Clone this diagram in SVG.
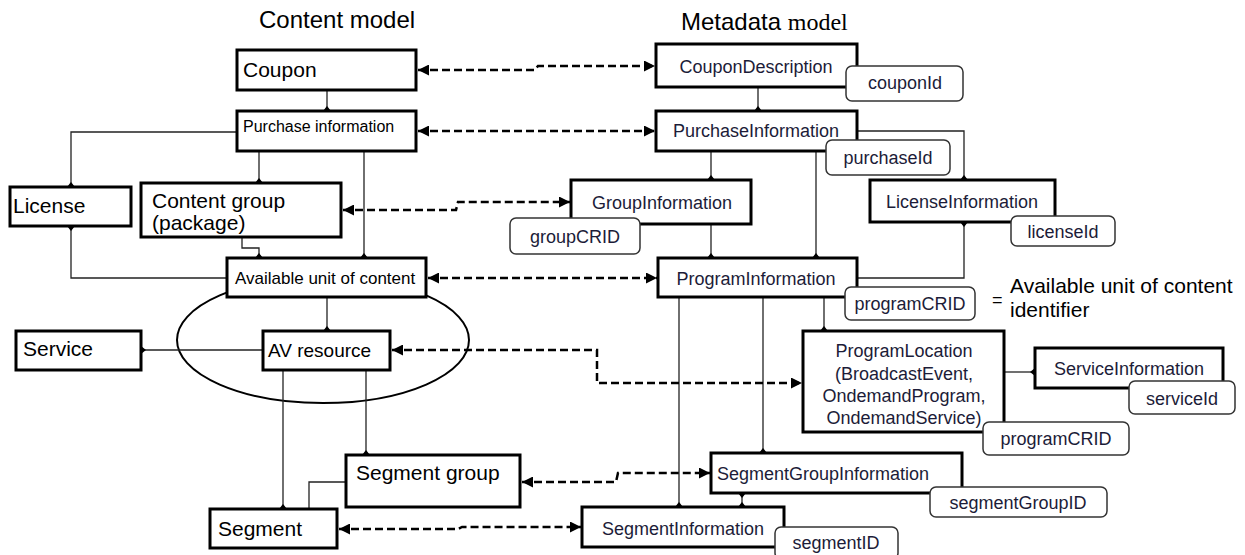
<svg xmlns="http://www.w3.org/2000/svg" width="1245" height="555" viewBox="0 0 1245 555">
  <style>
    .box { fill: #fff; stroke: #000; stroke-width: 3; }
    .key { fill: #fff; stroke: #333; stroke-width: 1.5; }
    .t { font-family: "Liberation Sans", Arial, sans-serif; fill: #000; }
    .m { font-family: "Liberation Sans", Arial, sans-serif; fill: #1c1c38; font-size: 18px; text-anchor: middle; }
    .link { fill: none; stroke: #222; stroke-width: 1.3; }
    .assoc { fill: none; stroke: #000; stroke-width: 2.5; stroke-dasharray: 8 4; }
  </style>
  <defs>
    <marker id="dot" viewBox="-5 -5 10 10" markerWidth="10" markerHeight="10" markerUnits="userSpaceOnUse" orient="auto">
      <path d="M-5 0 L0 -4 L5 0 L0 4 Z" fill="#000"/>
    </marker>
    <marker id="head" viewBox="0 0 10 10" refX="10" refY="5" markerWidth="11" markerHeight="11" markerUnits="userSpaceOnUse" orient="auto-start-reverse">
      <path d="M0 0 L10 5 L0 10 Z" fill="#000"/>
    </marker>
  </defs>

  <!-- column headings -->
  <text class="t" x="259" y="28" font-size="24">Content model</text>
  <text x="681" y="30" font-size="24"><tspan font-family="Liberation Sans, Arial, sans-serif">Metadata </tspan><tspan font-family="Liberation Serif, Times New Roman, serif">model</tspan></text>

  <!-- ellipse grouping the AV resource -->
  <ellipse cx="323" cy="340" rx="146" ry="63" fill="none" stroke="#000" stroke-width="2"/>

  <!-- solid composition links -->
  <g id="links">
    <path class="link" d="M327 90 V111" marker-end="url(#dot)"/>
    <path class="link" d="M237 132 H71 V187" marker-end="url(#dot)"/>
    <path class="link" d="M259 151 V183" marker-end="url(#dot)"/>
    <path class="link" d="M364 151 V258" marker-end="url(#dot)"/>
    <path class="link" d="M227 278 H71 V226" marker-end="url(#dot)"/>
    <path class="link" d="M242 237 V248 H259 V258" marker-end="url(#dot)"/>
    <path class="link" d="M327 297 V331" marker-end="url(#dot)"/>
    <path class="link" d="M263 350 H141" marker-end="url(#dot)"/>
    <path class="link" d="M283 370 V509" marker-end="url(#dot)"/>
    <path class="link" d="M366 370 V455" marker-end="url(#dot)"/>
    <path class="link" d="M346 482 H309 V514"/>

    <path class="link" d="M758 87 V111" marker-end="url(#dot)"/>
    <path class="link" d="M711 151 V180" marker-end="url(#dot)"/>
    <path class="link" d="M816 151 V258" marker-end="url(#dot)"/>
    <path class="link" d="M857 131 H964 V180" marker-end="url(#dot)"/>
    <path class="link" d="M711 224 V258" marker-end="url(#dot)"/>
    <path class="link" d="M857 278 H964 V222" marker-end="url(#dot)" stroke="#555"/>
    <path class="link" d="M824 297 V331" marker-end="url(#dot)"/>
    <path class="link" d="M679 297 V507" marker-end="url(#dot)"/>
    <path class="link" d="M763 297 V453" marker-end="url(#dot)"/>
    <path class="link" d="M742 507 V493" marker-start="url(#dot)" marker-end="url(#dot)"/>
    <path class="link" d="M1004 372 H1035" marker-end="url(#dot)"/>
  </g>

  <!-- dashed correspondences between the two models -->
  <g id="connectors">
    <path class="assoc" d="M418 70 H535 L538 66 H655" marker-start="url(#head)" marker-end="url(#head)"/>
    <path class="assoc" d="M418 131 H655" marker-start="url(#head)" marker-end="url(#head)"/>
    <path class="assoc" d="M343 210 H456 L458 202 H570" marker-start="url(#head)" marker-end="url(#head)"/>
    <path class="assoc" d="M428 278 H657" marker-start="url(#head)" marker-end="url(#head)"/>
    <path class="assoc" d="M392 350 H597 V383 H802" marker-start="url(#head)" marker-end="url(#head)"/>
    <path class="assoc" d="M522 482 H616 L618 473 H710" marker-start="url(#head)" marker-end="url(#head)"/>
    <path class="assoc" d="M339 529 H458 L462 527 H581" marker-start="url(#head)" marker-end="url(#head)"/>
  </g>

  <!-- content model -->
  <g id="coupon"><rect class="box" x="237" y="50" width="179" height="40"/><text class="t" x="243" y="77" font-size="21">Coupon</text></g>
  <g id="purchase"><rect class="box" x="237" y="111" width="179" height="40"/><text class="t" x="243" y="132" font-size="16">Purchase information</text></g>
  <g id="license"><rect class="box" x="10" y="187" width="121" height="39"/><text class="t" x="13" y="213" font-size="21">License</text></g>
  <g id="content-group"><rect class="box" x="141" y="183" width="200" height="54"/><text class="t" x="152" y="208" font-size="21">Content group</text><text class="t" x="152" y="230" font-size="21">(package)</text></g>
  <g id="available-unit"><rect class="box" x="227" y="258" width="199" height="39"/><text class="t" x="235" y="284" font-size="17">Available unit of content</text></g>
  <g id="av-resource"><rect class="box" x="263" y="331" width="127" height="39"/><text class="t" x="268" y="357" font-size="19">AV resource</text></g>
  <g id="service"><rect class="box" x="16" y="331" width="125" height="39"/><text class="t" x="23" y="356" font-size="21">Service</text></g>
  <g id="segment-group"><rect class="box" x="346" y="455" width="174" height="52"/><text class="t" x="356" y="480" font-size="21">Segment group</text></g>
  <g id="segment"><rect class="box" x="210" y="509" width="127" height="39"/><text class="t" x="218" y="536" font-size="21">Segment</text></g>

  <!-- metadata model -->
  <g id="coupon-description"><rect class="box" x="656" y="44" width="201" height="43"/><text class="m" x="756" y="73">CouponDescription</text></g>
  <g id="coupon-id"><rect class="key" x="846" y="66" width="117" height="35" rx="6"/><text class="m" x="905" y="89">couponId</text></g>
  <g id="purchase-information"><rect class="box" x="656" y="111" width="201" height="40"/><text class="m" x="756" y="137">PurchaseInformation</text></g>
  <g id="purchase-id"><rect class="key" x="826" y="140" width="124" height="35" rx="6"/><text class="m" x="888" y="164">purchaseId</text></g>
  <g id="group-information"><rect class="box" x="571" y="180" width="180" height="44"/><text class="m" x="662" y="209">GroupInformation</text></g>
  <g id="group-crid"><rect class="key" x="510" y="218" width="130" height="36" rx="6"/><text class="m" x="575" y="243">groupCRID</text></g>
  <g id="license-information"><rect class="box" x="870" y="180" width="185" height="42"/><text class="m" x="962" y="208">LicenseInformation</text></g>
  <g id="license-id"><rect class="key" x="1011" y="216" width="104" height="30" rx="6"/><text class="m" x="1063" y="238">licenseId</text></g>
  <g id="program-information"><rect class="box" x="658" y="258" width="199" height="39"/><text class="m" x="756" y="285">ProgramInformation</text></g>
  <g id="program-crid"><rect class="key" x="845" y="287" width="130" height="33" rx="6"/><text class="m" x="910" y="310">programCRID</text></g>
  <g id="identifier-note"><text class="t" x="992" y="306" font-size="18">=</text><text class="t" x="1010" y="293" font-size="21">Available unit of content</text><text class="t" x="1010" y="317" font-size="21">identifier</text></g>
  <g id="program-location"><rect class="box" x="803" y="331" width="201" height="101"/>
    <text class="m" x="904" y="357">ProgramLocation</text>
    <text class="m" x="904" y="380">(BroadcastEvent,</text>
    <text class="m" x="904" y="402">OndemandProgram,</text>
    <text class="m" x="904" y="424">OndemandService)</text></g>
  <g id="program-location-crid"><rect class="key" x="983" y="422" width="146" height="33" rx="6"/><text class="m" x="1056" y="445">programCRID</text></g>
  <g id="service-information"><rect class="box" x="1035" y="348" width="188" height="40"/><text class="m" x="1129" y="375">ServiceInformation</text></g>
  <g id="service-id"><rect class="key" x="1129" y="381" width="106" height="33" rx="6"/><text class="m" x="1182" y="405">serviceId</text></g>
  <g id="segment-group-information"><rect class="box" x="711" y="453" width="251" height="40"/><text class="m" x="823" y="480">SegmentGroupInformation</text></g>
  <g id="segment-group-id"><rect class="key" x="930" y="487" width="177" height="30" rx="6"/><text class="m" x="1018" y="509">segmentGroupID</text></g>
  <g id="segment-information"><rect class="box" x="582" y="507" width="202" height="40"/><text class="m" x="683" y="535">SegmentInformation</text></g>
  <g id="segment-id"><rect class="key" x="775" y="527" width="123" height="32" rx="6"/><text class="m" x="836" y="549">segmentID</text></g>
</svg>
